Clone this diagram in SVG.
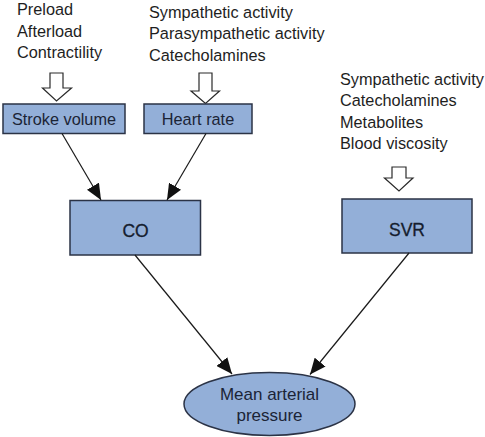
<svg xmlns="http://www.w3.org/2000/svg" width="485" height="437" viewBox="0 0 485 437">
<defs>
<style>
.lbl{font-family:"Liberation Sans",Arial,sans-serif;font-size:16.3px;fill:#1e1e1e}
.box{fill:#93afd8;stroke:#2b3346;stroke-width:1.5}
.btxt{font-family:"Liberation Sans",Arial,sans-serif;font-size:16.3px;fill:#1b2436;text-anchor:middle}
.etxt{font-family:"Liberation Sans",Arial,sans-serif;font-size:17px;fill:#1b2436;text-anchor:middle}
.big{font-family:"Liberation Sans",Arial,sans-serif;font-size:17.5px;fill:#151d2e;text-anchor:middle;stroke:#151d2e;stroke-width:0.3}
.hollow{fill:#fff;stroke:#2a2a2a;stroke-width:1.2;stroke-linejoin:miter}
.conn{stroke:#1a1a1a;stroke-width:1.2;fill:none;marker-end:url(#ah)}
</style>
<marker id="ah" markerUnits="userSpaceOnUse" markerWidth="16" markerHeight="14" viewBox="0 0 16 14" refX="16" refY="7" orient="auto">
<path d="M0,0 L16,7 L0,14 Z" fill="#111"/>
</marker>
</defs>

<g id="inputs-sv">
<text class="lbl" x="17" y="15">Preload</text>
<text class="lbl" x="17" y="36.5">Afterload</text>
<text class="lbl" x="17" y="58">Contractility</text>
<path class="hollow" d="M50,73 L63,73 L63,88 L71.5,88 L56.5,101 L42.5,88 L50,88 Z"/>
</g>

<g id="inputs-hr">
<text class="lbl" x="149" y="17.5">Sympathetic activity</text>
<text class="lbl" x="149" y="39">Parasympathetic activity</text>
<text class="lbl" x="149" y="60.5">Catecholamines</text>
<path class="hollow" d="M199,73 L212,73 L212,91 L219.5,91 L205.5,103.5 L191,91 L199,91 Z"/>
</g>

<g id="inputs-svr">
<text class="lbl" x="340" y="84.5">Sympathetic activity</text>
<text class="lbl" x="340" y="106">Catecholamines</text>
<text class="lbl" x="340" y="127.5">Metabolites</text>
<text class="lbl" x="340" y="149">Blood viscosity</text>
<path class="hollow" d="M392,167 L406,167 L406,178 L413,178 L399,191 L384.5,178 L392,178 Z"/>
</g>

<g id="stroke-volume">
<rect class="box" x="3" y="104" width="122" height="29.5"/>
<text class="btxt" x="64" y="125">Stroke volume</text>
</g>

<g id="heart-rate">
<rect class="box" x="144" y="104" width="108" height="29.5"/>
<text class="btxt" x="198" y="125">Heart rate</text>
</g>

<g id="co">
<rect class="box" x="70" y="200.5" width="130.5" height="54.5"/>
<text class="big" x="135.5" y="237">CO</text>
</g>

<g id="svr">
<rect class="box" x="342" y="199" width="130" height="54"/>
<text class="big" x="407" y="236">SVR</text>
</g>

<g id="map">
<ellipse class="box" cx="269.5" cy="404" rx="85.5" ry="31.5"/>
<text class="etxt" x="269.5" y="400">Mean arterial</text>
<text class="etxt" x="269.5" y="421">pressure</text>
</g>

<g id="connectors">
<line class="conn" x1="62" y1="133.5" x2="101" y2="200"/>
<line class="conn" x1="206" y1="133.5" x2="167" y2="200"/>
<line class="conn" x1="135" y1="255" x2="232" y2="374"/>
<line class="conn" x1="409" y1="253" x2="310" y2="374.5"/>
</g>
</svg>
